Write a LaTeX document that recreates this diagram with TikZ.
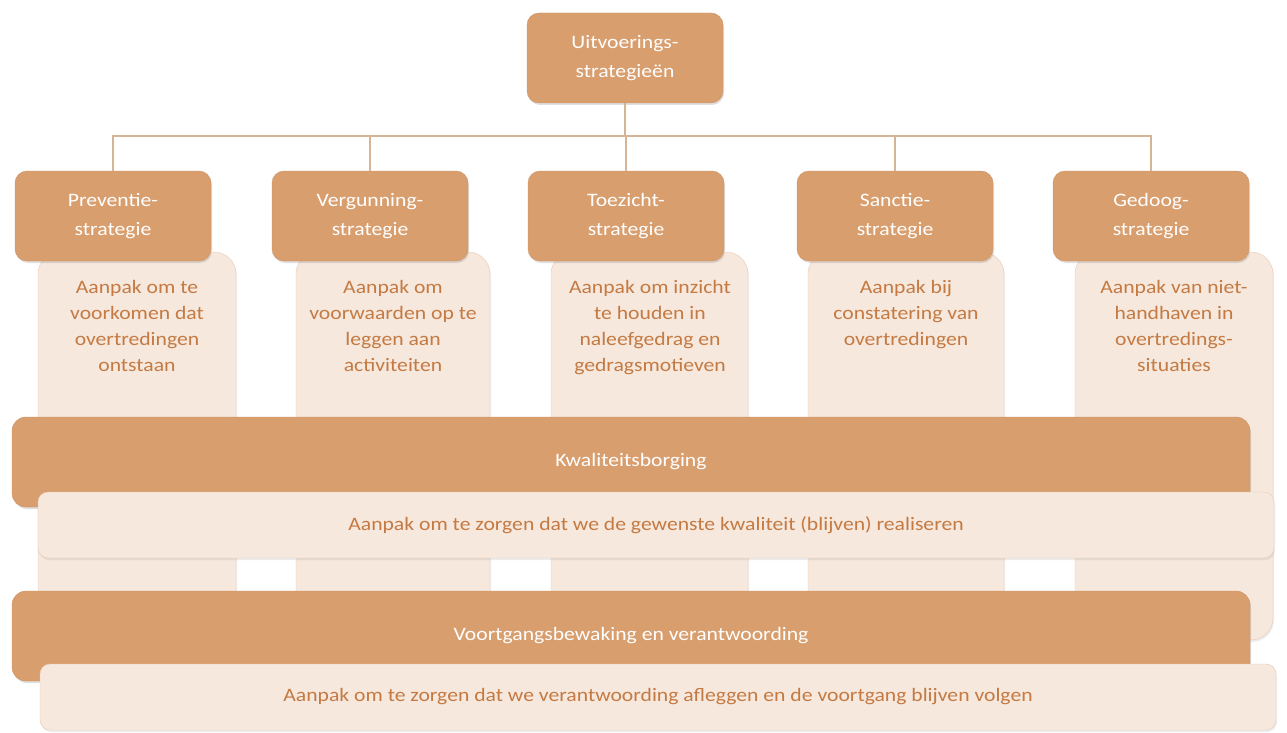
\documentclass[tikz,border=0pt]{standalone}
\usepackage{fontspec}
\setmainfont[FakeStretch=1.14]{Carlito}
\usetikzlibrary{shadows}

\definecolor{darkorange}{HTML}{D99E6E}
\definecolor{darkedge}{HTML}{CF9262}
\definecolor{lightfill}{HTML}{F6E8DD}
\definecolor{lightedge}{HTML}{E9CBB4}
\definecolor{lighttext}{HTML}{C47A42}
\definecolor{linkcolor}{HTML}{D8B497}

\begin{document}
\begin{tikzpicture}[
    x=1pt, y=-1pt,
    font=\fontsize{19}{26}\selectfont,
    stratbox/.style={
        draw=darkedge, fill=darkorange, text=white,
        font=\fontsize{19}{29}\selectfont,
        rounded corners=12pt, align=center,
        minimum width=196pt, minimum height=90pt,
        drop shadow={shadow xshift=1pt, shadow yshift=-2pt, opacity=0.25}
    },
    colbox/.style={
        draw=lightedge, fill=lightfill,
        drop shadow={shadow xshift=1pt, shadow yshift=-2pt, opacity=0.15}
    },
    coltext/.style={text=lighttext, align=center, anchor=north, inner sep=2pt},
    barbox/.style={
        draw=darkedge, fill=darkorange, text=white,
        rounded corners=14pt, minimum width=1238pt, minimum height=90pt,
        drop shadow={shadow xshift=1pt, shadow yshift=-2pt, opacity=0.25}
    },
    notebox/.style={
        draw=lightedge, fill=lightfill, text=lighttext,
        rounded corners=10pt, minimum width=1236pt, minimum height=66pt,
        drop shadow={shadow xshift=1pt, shadow yshift=-2pt, opacity=0.15}
    },
    link/.style={draw=linkcolor, line width=1.5pt}
    ]
    \useasboundingbox (0,0) rectangle (1287,733);

    % light columns behind the strategy boxes
    \foreach \xa/\xb in {38/236, 296/490, 551/748, 808/1004}
        \draw[colbox] (\xa,600) [rounded corners=22pt] -- (\xa,252) -- (\xb,252) [sharp corners] -- (\xb,600) -- cycle;
    \draw[colbox] (1075,640) [rounded corners=22pt] -- (1075,252) -- (1273,252) -- (1273,640) [sharp corners] -- cycle;

    \node[coltext] (prevtext) at (137,278) {Aanpak om te\\voorkomen dat\\overtredingen\\ontstaan};
    \node[coltext] (vergtext) at (393,278) {Aanpak om\\voorwaarden op te\\leggen aan\\activiteiten};
    \node[coltext] (toeztext) at (650,278) {Aanpak om inzicht\\te houden in\\naleefgedrag en\\gedragsmotieven};
    \node[coltext] (sanctext) at (906,278) {Aanpak bij\\constatering van\\overtredingen};
    \node[coltext] (gedotext) at (1174,278) {Aanpak van niet-\\handhaven in\\overtredings-\\situaties};

    % hierarchy
    \node[stratbox] (uitv) at (625,58) {Uitvoerings-\\strategieën};
    \node[stratbox] (prev) at (113,216) {Preventie-\\strategie};
    \node[stratbox] (verg) at (370,216) {Vergunning-\\strategie};
    \node[stratbox] (toez) at (626,216) {Toezicht-\\strategie};
    \node[stratbox] (sanc) at (895,216) {Sanctie-\\strategie};
    \node[stratbox] (gedo) at (1151,216) {Gedoog-\\strategie};

    \foreach \s in {prev, verg, toez, sanc, gedo}
        \draw[link] (uitv.south) -- ++(0,33) -| (\s.north);

    % bars
    \node[barbox] (kwal) at (631,462) {Kwaliteitsborging};
    \node[notebox] (kwalnote) at (656,525) {Aanpak om te zorgen dat we de gewenste kwaliteit (blijven) realiseren};
    \node[barbox] (voort) at (631,636) {Voortgangsbewaking en verantwoording};
    \node[notebox] (voortnote) at (658,697) {Aanpak om te zorgen dat we verantwoording afleggen en de voortgang blijven volgen};
\end{tikzpicture}
\end{document}
